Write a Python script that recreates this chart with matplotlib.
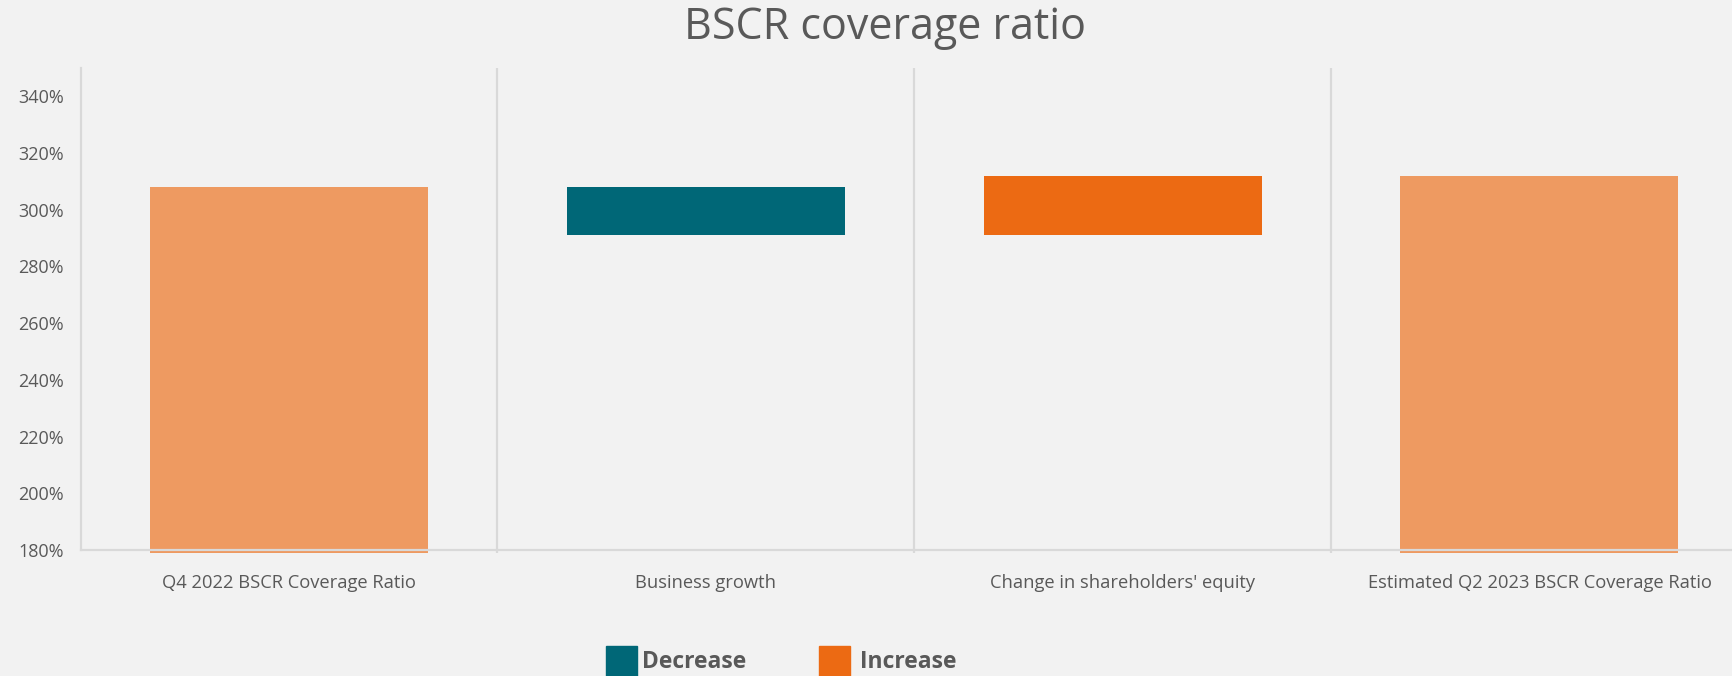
import matplotlib
matplotlib.use("Agg")
import matplotlib.pyplot as plt
from matplotlib.patches import Rectangle
import numpy as np

plt.rcParams['font.family'] = ['Open Sans', 'DejaVu Sans']

categories = ["Q4 2022 BSCR Coverage Ratio", "Business growth",
              "Change in shareholders' equity", "Estimated Q2 2023 BSCR Coverage Ratio"]
start_value = 308
deltas = [-17, 21]
end_value = start_value + sum(deltas)
yticks = [180, 200, 220, 240, 260, 280, 300, 320, 340]
legend_labels = ["Decrease", "Increase"]

BG = "#F2F2F2"
TOTAL_C = "#EE9A61"
DEC_C = "#006777"
INC_C = "#EC6A13"
GRID_C = "#D9D9D9"
TXT_C = "#595959"

W, H = 1732, 676
fig = plt.figure(figsize=(W / 100, H / 100), dpi=100, facecolor=BG)
ax = fig.add_axes([80.7 / W, 1 - 552.8 / H, 1 - 80.7 / W, (552.8 - 68.0) / H])
ax.set_facecolor(BG)

x = np.arange(len(categories))
bw = 0.667
# totals
ax.bar([x[0], x[-1]], [start_value, end_value], width=bw, color=TOTAL_C, zorder=2)
# deltas
level = start_value
for i, d in enumerate(deltas):
    lo = min(level, level + d)
    ax.bar(x[i + 1], abs(d), bottom=lo, width=bw,
           color=DEC_C if d < 0 else INC_C, zorder=2)
    level += d

ax.set_xlim(-0.5, 3.462)
ax.set_ylim(179, 350)

for b in [0.5, 1.5, 2.5]:
    ax.axvline(b, color=GRID_C, lw=1.6, zorder=1)

for s in ["top", "right"]:
    ax.spines[s].set_visible(False)
ax.spines["left"].set_color(GRID_C)
ax.spines["left"].set_linewidth(1.6)
ax.spines["left"].set_bounds(180, 350)
ax.spines["bottom"].set_color(GRID_C)
ax.spines["bottom"].set_linewidth(1.6)
ax.spines["bottom"].set_position(("data", 180))
ax.spines["bottom"].set_zorder(3)

ax.set_yticks(yticks)
ax.set_yticklabels([f"{v}%" for v in yticks])
ax.set_xticks(x)
ax.set_xticklabels(categories)
ax.tick_params(axis="y", length=0, pad=12, labelsize=13, labelcolor=TXT_C)
ax.tick_params(axis="x", length=0, pad=17, labelsize=13.2, labelcolor=TXT_C)

fig.text(885 / W, 1 - 28 / H, "BSCR coverage ratio", ha="center", va="center",
         fontsize=31, color=TXT_C)

# legend
legend_colors = [DEC_C, INC_C]
patch_x = [606, 819]
text_gap = [36, 41]
for px, gap, lab, c in zip(patch_x, text_gap, legend_labels, legend_colors):
    fig.patches.append(Rectangle((px / W, 0), 31 / W, (676 - 646) / H,
                                 transform=fig.transFigure, color=c, figure=fig))
    fig.text((px + gap) / W, 1 - 662 / H, lab, ha="left", va="center",
             fontsize=16.5, fontweight="bold", color=TXT_C)

fig.savefig("out.png", dpi=100, facecolor=BG)
